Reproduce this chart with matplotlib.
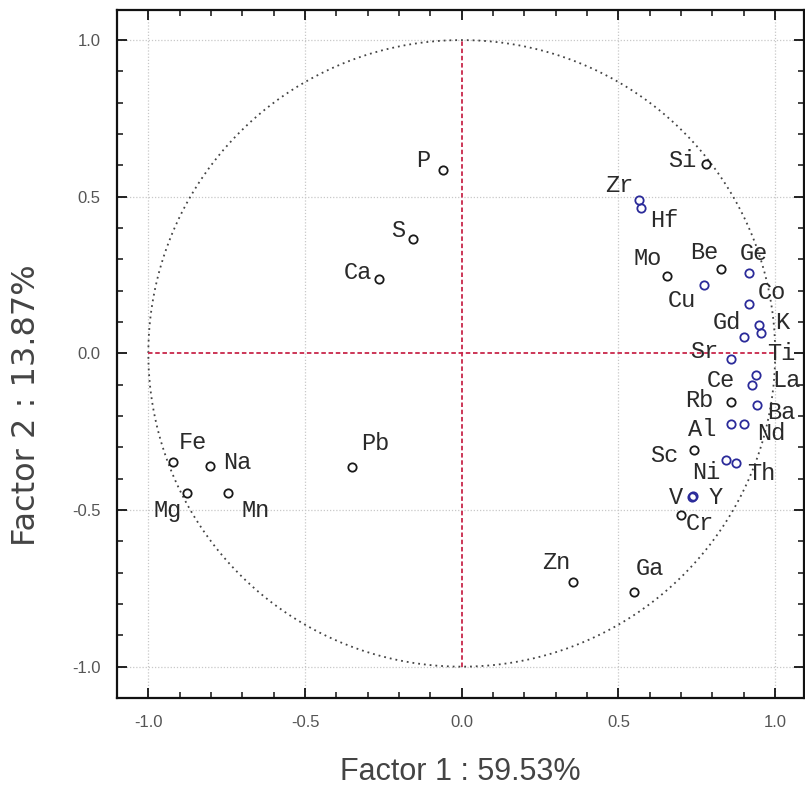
import matplotlib
matplotlib.use("Agg")
import matplotlib.pyplot as plt
import numpy as np
from matplotlib.ticker import MultipleLocator

# ---- data (factor loadings) ----
elements = ['P', 'S', 'Ca', 'Si', 'Zr', 'Hf', 'Mo', 'Be', 'Ge', 'Cu', 'Co', 'Gd', 'K', 'Ti',
            'Sr', 'Ce', 'La', 'Rb', 'Ba', 'Al', 'Nd', 'Sc', 'Ni', 'Th', 'V', 'Y', 'Cr',
            'Fe', 'Na', 'Mg', 'Mn', 'Pb', 'Zn', 'Ga']
factor1 = [-0.061, -0.156, -0.264, 0.780, 0.567, 0.573, 0.656, 0.828, 0.917, 0.774, 0.917, 0.901,
           0.949, 0.955, 0.860, 0.927, 0.939, 0.860, 0.943, 0.860, 0.901, 0.742, 0.844, 0.876,
           0.736, 0.739, 0.701, -0.920, -0.803, -0.876, -0.745, -0.350, 0.354, 0.551]
factor2 = [0.584, 0.364, 0.236, 0.606, 0.488, 0.463, 0.246, 0.268, 0.255, 0.217, 0.159, 0.051,
           0.089, 0.064, -0.019, -0.102, -0.070, -0.156, -0.166, -0.226, -0.226, -0.309, -0.341,
           -0.351, -0.459, -0.456, -0.517, -0.348, -0.360, -0.447, -0.447, -0.364, -0.730, -0.762]
xlabel = 'Factor 1 : 59.53%'
ylabel = 'Factor 2 : 13.87%'
ticks = [-1.0, -0.5, 0.0, 0.5, 1.0]

# ---- styling / layout ----
blue_set = {'Zr', 'Hf', 'Ge', 'Cu', 'Co', 'Gd', 'K', 'Ti', 'Sr', 'Ce', 'La', 'Ba', 'Al', 'Nd',
            'Ni', 'Th', 'V', 'Y'}
# label offsets in pixels (dx right, dy down) relative to the marker
label_off = {
    'P': (-19, -10), 'S': (-15, -9), 'Ca': (-21, -7), 'Si': (-24, -3), 'Zr': (-20, -15),
    'Hf': (23, 12), 'Mo': (-20, -18), 'Be': (-17, -17), 'Ge': (5, -20), 'Cu': (-22, 15),
    'Co': (23, -11), 'Gd': (-17, -15), 'K': (23, -3), 'Ti': (20, 20), 'Sr': (-27, -8),
    'Ce': (-31, -5), 'La': (30, 5), 'Rb': (-32, -2), 'Ba': (24, 7), 'Al': (-29, 5),
    'Nd': (27, 9), 'Sc': (-30, 5), 'Ni': (-20, 12), 'Th': (25, 10), 'V': (-16, 0),
    'Y': (22, 1), 'Cr': (18, 8), 'Fe': (19, -20), 'Na': (27, -4), 'Mg': (-20, 17),
    'Mn': (27, 17), 'Pb': (23, -24), 'Zn': (-16, -20), 'Ga': (15, -24),
}

W, H = 805, 792
fig = plt.figure(figsize=(W / 100, H / 100), dpi=100)
ax = fig.add_axes([117 / W, 1 - 698 / H, 687 / W, 688 / H])
ax.set_xlim(-1.1, 1.092)
ax.set_ylim(-1.1, 1.096)

# grid
for t in ticks:
    if t != 0:
        ax.axvline(t, color='#c8c8c8', lw=0.9, ls=(0, (1, 1.5)), zorder=0)
        ax.axhline(t, color='#c8c8c8', lw=0.9, ls=(0, (1, 1.5)), zorder=0)

# unit circle
th = np.linspace(0, 2 * np.pi, 721)
ax.plot(np.cos(th), np.sin(th), color='#444444', lw=1.3, ls=(0, (1, 2.2)), zorder=1)

# red dashed axes through origin
ax.plot([0, 0], [-1, 1], color='#c8264a', lw=1.3, ls=(0, (2.5, 1.5)), zorder=1)
ax.plot([-1, 1], [0, 0], color='#c8264a', lw=1.3, ls=(0, (2.5, 1.5)), zorder=1)

# points
for name, x, y in zip(elements, factor1, factor2):
    c = '#2b2b9a' if name in blue_set else '#1a1a1a'
    ax.plot(x, y, 'o', ms=6, mfc='none', mec=c, mew=1.3, zorder=3)
    dx, dy = label_off[name]
    ax.annotate(name, (x, y), xytext=(dx, -dy), textcoords='offset pixels',
                ha='center', va='center', fontsize=17, family=['Liberation Mono', 'DejaVu Sans Mono'],
                color='#2a2a2a', zorder=4)

# ticks
ax.xaxis.set_major_locator(MultipleLocator(0.5))
ax.yaxis.set_major_locator(MultipleLocator(0.5))
ax.xaxis.set_minor_locator(MultipleLocator(0.1))
ax.yaxis.set_minor_locator(MultipleLocator(0.1))
ax.tick_params(which='both', direction='in', top=True, right=True, color='#111111')
ax.tick_params(which='major', length=7, width=1.3, labelsize=12, labelcolor='#555555', pad=12)
ax.tick_params(which='minor', length=4, width=1.1)
ax.set_xticks(ticks)
ax.set_yticks(ticks)
ax.set_xticklabels(['%.1f' % t for t in ticks], family='Liberation Sans')
ax.set_yticklabels(['%.1f' % t for t in ticks], family='Liberation Sans')
for s in ax.spines.values():
    s.set_linewidth(1.6)
    s.set_color('#111111')

ax.set_xlabel(xlabel, fontsize=22, family='Liberation Sans', color='#444444', labelpad=20)
ax.set_ylabel(ylabel, fontsize=23, family='DejaVu Sans', color='#444444')
ax.yaxis.set_label_coords(-(117 - 42) / 687, (698 - 405) / 688)

fig.savefig('out.png', dpi=100, facecolor='white')
